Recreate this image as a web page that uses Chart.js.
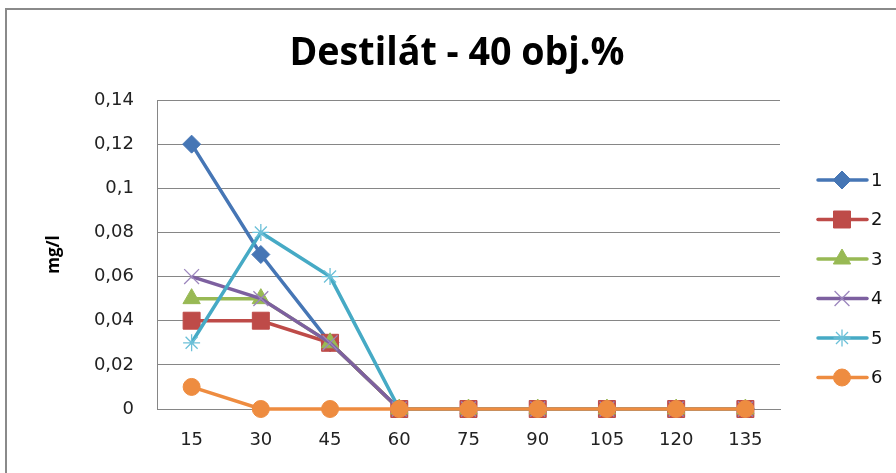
<!DOCTYPE html>
<html lang="cs">
<head>
    <meta charset="UTF-8">
    <title>Destilát - 40 obj.%</title>
    <script src="https://cdn.jsdelivr.net/npm/chart.js"></script>
    <style>
        html, body { margin: 0; padding: 0; background: #fff; }
        #wrap { width: 896px; height: 473px; }
    </style>
</head>
<body>
    <div id="wrap"><canvas id="graf"></canvas></div>
    <script>
        // Časy odběru (x) a naměřené koncentrace v mg/l pro vzorky 1–6
        const casy = ['15', '30', '45', '60', '75', '90', '105', '120', '135'];
        const vzorek1 = [0.12, 0.07, 0.03, 0, 0, 0, 0, 0, 0];
        const vzorek2 = [0.04, 0.04, 0.03, 0, 0, 0, 0, 0, 0];
        const vzorek3 = [0.05, 0.05, 0.03, 0, 0, 0, 0, 0, 0];
        const vzorek4 = [0.06, 0.05, 0.03, 0, 0, 0, 0, 0, 0];
        const vzorek5 = [0.03, 0.08, 0.06, 0, 0, 0, 0, 0, 0];
        const vzorek6 = [0.01, 0, 0, 0, 0, 0, 0, 0, 0];
        const nazvy = ['1', '2', '3', '4', '5', '6'];
        const yMin = 0, yMax = 0.14, yKrok = 0.02;

        const nadpis = 'Destilát - 40 obj.%';
        const osaY = 'mg/l';

        // vzhled jednotlivých řad
        const styly = [
            { barva: '#4676B5', okraj: '#4676B5', tvar: 'rectRot', r: 9, ow: 1 },
            { barva: '#BE4B48', okraj: '#BE4B48', tvar: 'rect', r: 12, ow: 1 },
            { barva: '#98B954', okraj: '#98B954', tvar: 'triangle', r: 10, ow: 1 },
            { barva: '#7D60A0', okraj: '#9C86BD', tvar: 'crossRot', r: 10.5, ow: 1.3 },
            { barva: '#46AAC5', okraj: '#6CC0D8', tvar: 'star', r: 8.5, ow: 1.3 },
            { barva: '#EE8C40', okraj: '#EE8C40', tvar: 'circle', r: 8.5, ow: 1 }
        ];
        const data = [vzorek1, vzorek2, vzorek3, vzorek4, vzorek5, vzorek6];

        const datasets = data.map((hodnoty, i) => ({
            label: nazvy[i],
            data: hodnoty,
            borderColor: styly[i].barva,
            backgroundColor: styly[i].barva,
            borderWidth: 3.5,
            pointStyle: styly[i].tvar,
            pointRadius: styly[i].r,
            pointBorderColor: styly[i].okraj,
            pointBackgroundColor: styly[i].barva,
            pointBorderWidth: styly[i].ow,
            tension: 0,
            clip: false,
            order: data.length - i   // poslední řada se kreslí navrch
        }));

        function cislo(v) {
            return String(Number(v.toFixed(2))).replace('.', ',');
        }

        // rámeček, nadpis a legenda kreslené ručně
        const vyzdoba = {
            id: 'vyzdoba',
            beforeDraw(chart) {
                const ctx = chart.ctx;
                ctx.save();
                ctx.strokeStyle = '#8a8a8a';
                ctx.lineWidth = 2;
                ctx.strokeRect(6, 9, 1000, 1000);
                ctx.restore();
            },
            afterDraw(chart) {
                const ctx = chart.ctx;
                ctx.save();
                ctx.font = 'bold 40px "Open Sans"';
                ctx.fillStyle = '#000';
                ctx.textBaseline = 'alphabetic';
                ctx.textAlign = 'center';
                const w = ctx.measureText(nadpis).width;
                ctx.translate(457, 65);
                ctx.scale(335 / w, 1);
                ctx.fillText(nadpis, 0, 0);
                ctx.restore();

                ctx.save();
                const y0 = 180, dy = 39.5;
                styly.forEach((s, i) => {
                    const y = y0 + i * dy;
                    ctx.strokeStyle = s.barva;
                    ctx.lineWidth = 3.5;
                    ctx.lineCap = 'round';
                    ctx.beginPath();
                    ctx.moveTo(818, y);
                    ctx.lineTo(867, y);
                    ctx.stroke();
                    ctx.lineCap = 'butt';
                    ctx.fillStyle = s.barva;
                    ctx.strokeStyle = s.okraj;
                    ctx.lineWidth = s.ow;
                    Chart.helpers.drawPoint(ctx, {
                        pointStyle: s.tvar, radius: s.r, borderWidth: s.ow, rotation: 0
                    }, 842, y);
                    ctx.fillStyle = '#111';
                    ctx.font = '18px "DejaVu Sans"';
                    ctx.textAlign = 'left';
                    ctx.textBaseline = 'middle';
                    ctx.fillText(nazvy[i], 871, y + 1);
                });
                ctx.restore();
            }
        };

        new Chart(document.getElementById('graf'), {
            type: 'line',
            data: { labels: casy, datasets: datasets },
            plugins: [vyzdoba],
            options: {
                responsive: true,
                maintainAspectRatio: false,
                animation: false,
                layout: { padding: { top: 100, right: 116, left: 0, bottom: 0 } },
                plugins: {
                    legend: { display: false },
                    title: { display: false },
                    tooltip: { enabled: false }
                },
                scales: {
                    x: {
                        offset: true,
                        afterFit(s) { s.height = 64; },
                        grid: { display: false, drawTicks: false },
                        border: { display: true, color: '#868686', width: 1 },
                        ticks: {
                            padding: 21,
                            color: '#222',
                            font: { family: 'DejaVu Sans', size: 18 },
                            maxRotation: 0,
                            autoSkip: false
                        }
                    },
                    y: {
                        min: yMin,
                        max: yMax,
                        afterFit(s) { s.width = 157; },
                        grid: { color: '#868686', lineWidth: 1, drawTicks: false },
                        border: { display: true, color: '#868686', width: 1 },
                        ticks: {
                            stepSize: yKrok,
                            padding: 23,
                            color: '#222',
                            font: { family: 'DejaVu Sans', size: 18 },
                            callback: v => cislo(v)
                        },
                        title: {
                            display: true,
                            text: osaY,
                            color: '#000',
                            font: { family: 'Open Sans', size: 17, weight: 'bold' },
                            padding: { top: 44, bottom: 0 }
                        }
                    }
                }
            }
        });
    </script>
</body>
</html>
